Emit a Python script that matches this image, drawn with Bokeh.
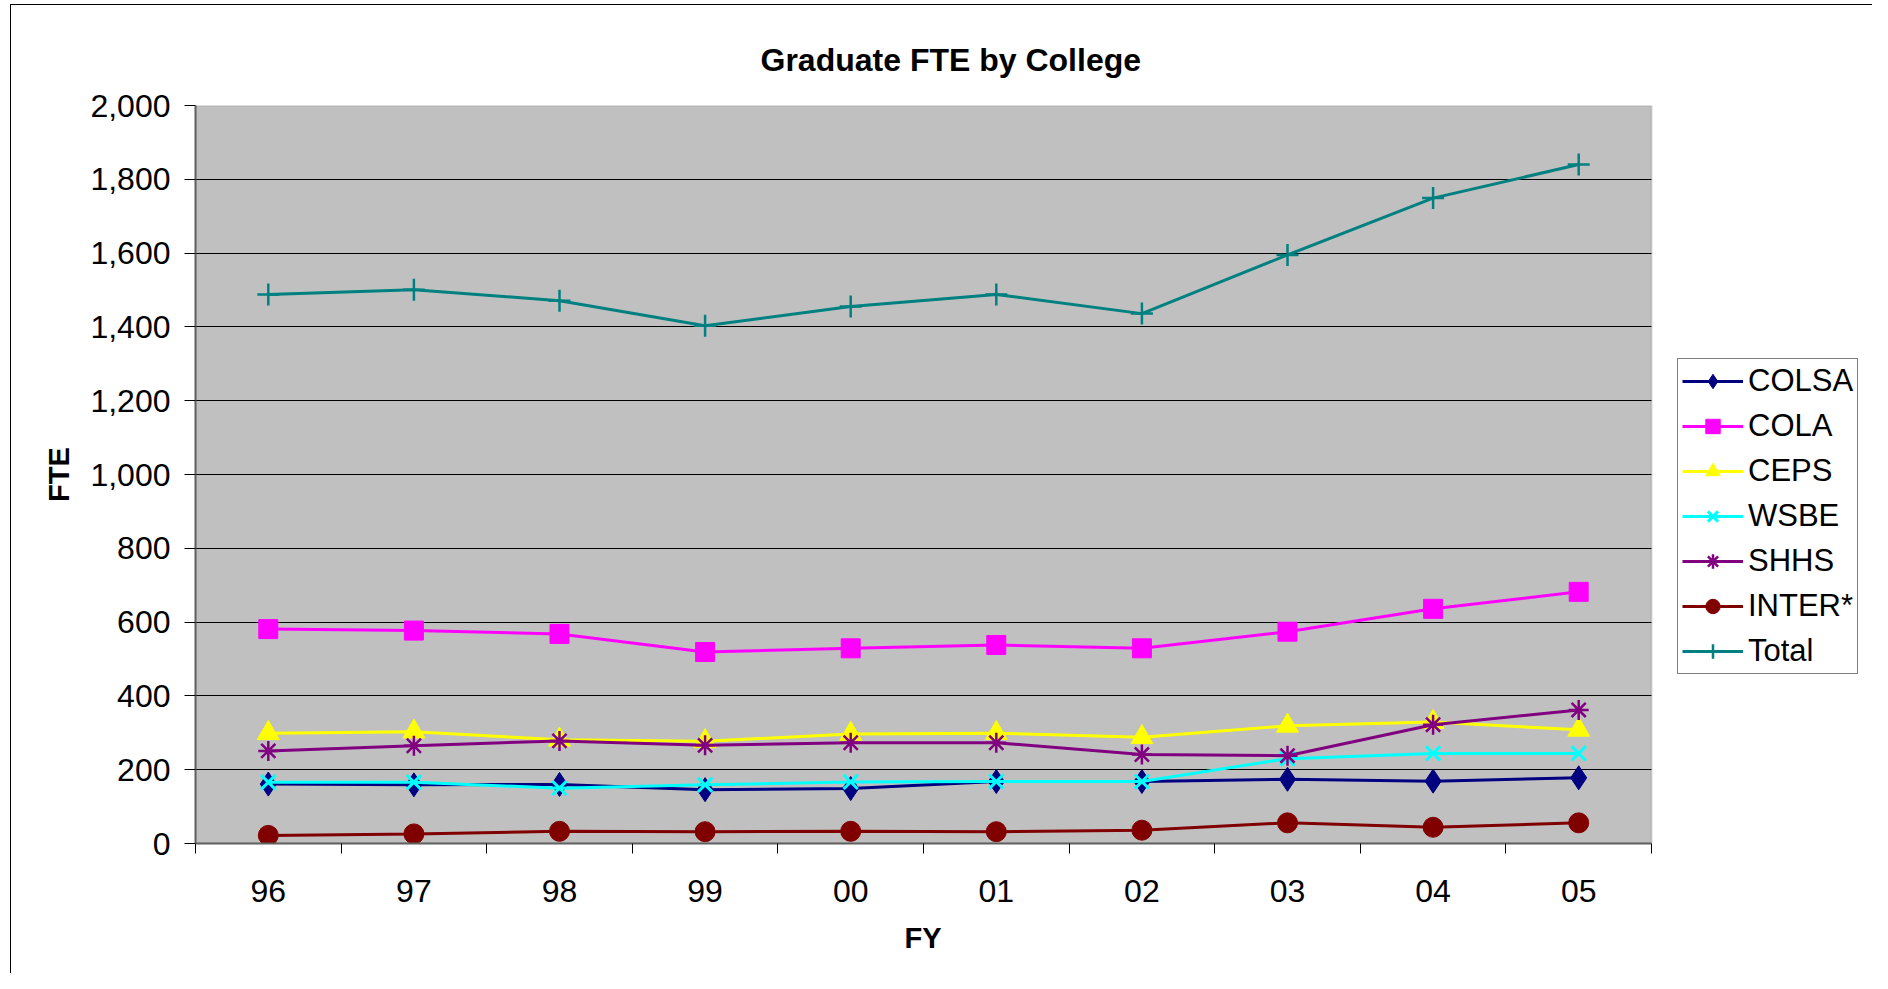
from bokeh.plotting import figure
from bokeh.models import (FixedTicker, NumeralTickFormatter, Legend, LegendItem,
                          Range1d, Title, BoxAnnotation)
from bokeh.embed import file_html
from bokeh.resources import INLINE

# ---- data -------------------------------------------------------------
years = ["96", "97", "98", "99", "00", "01", "02", "03", "04", "05"]
colsa = [161, 159, 160, 146, 149, 168, 168, 174, 169, 178]
cola = [581, 577, 568, 519, 529, 538, 529, 574, 636, 682]
ceps = [299, 303, 281, 277, 297, 299, 288, 319, 329, 308]
wsbe = [166, 166, 150, 159, 167, 168, 168, 230, 244, 244]
shhs = [251, 265, 278, 266, 273, 273, 241, 238, 322, 362]
inter = [22, 26, 33, 32, 33, 32, 36, 56, 44, 56]
total = [1488, 1501, 1471, 1403, 1455, 1488, 1436, 1595, 1749, 1840]
y_ticks = list(range(0, 2001, 200))
Y_MAX = 2000

FONT = "Liberation Sans"

n = len(years)
x = [i + 0.5 for i in range(n)]

W, H = 1872, 973
FL, FT, FR, FB = 195, 105, 1651, 843   # visible plot-area edges in canvas px
# the Bokeh frame runs to the right canvas edge so the legend can sit inside it
x_end = n * (W - FL) / (FR - FL)

p = figure(width=W, height=H, output_backend="svg", toolbar_location=None,
           x_range=Range1d(0, x_end), y_range=Range1d(0, Y_MAX),
           min_border_left=FL, min_border_right=0, min_border_top=FT,
           min_border_bottom=H - FB)

p.title = Title(text="Graduate FTE by College", align="left", offset=565,
                standoff=56, text_font_size="32px", text_font=FONT,
                text_font_style="bold", text_color="black")

p.background_fill_color = "white"
p.border_fill_color = "white"
p.border_fill_alpha = 0
p.outline_line_color = None
p.styles = {
    "background-color": "white",
    "background-image": "linear-gradient(#000,#000), linear-gradient(#000,#000)",
    "background-size": "1px 100%, 100% 1px",
    "background-position": "10px 4px, 10px 4px",
    "background-repeat": "no-repeat",
}

# grey plot area with its border
p.add_layout(BoxAnnotation(left=0, right=n, bottom=0, top=Y_MAX,
                           fill_color="#C0C0C0", fill_alpha=1.0,
                           line_color="#808080", line_width=2, level="image"))

# y axis
p.yaxis.ticker = FixedTicker(ticks=y_ticks)
p.yaxis.formatter = NumeralTickFormatter(format="0,0")
p.yaxis.major_tick_out = 11
p.yaxis.major_tick_in = 0
p.yaxis.minor_tick_out = 0
p.yaxis.minor_tick_in = 0
p.yaxis.major_tick_line_color = "black"
p.yaxis.axis_line_color = "#606060"
p.yaxis.axis_line_width = 2
p.yaxis.major_label_text_font = FONT
p.yaxis.major_label_text_font_size = "32px"
p.yaxis.major_label_text_color = "black"
p.yaxis.major_label_standoff = 14
p.yaxis.axis_label = "FTE"
p.yaxis.axis_label_text_font = FONT
p.yaxis.axis_label_text_font_size = "29px"
p.yaxis.axis_label_text_font_style = "bold"
p.yaxis.axis_label_text_color = "black"
p.yaxis.axis_label_standoff = 12

# x axis
p.xaxis.bounds = (0, n)
p.xaxis.ticker = FixedTicker(ticks=x, minor_ticks=list(range(0, n + 1)))
p.xaxis.major_label_overrides = {xi: yr for xi, yr in zip(x, years)}
p.xaxis.major_tick_out = 0
p.xaxis.major_tick_in = 0
p.xaxis.minor_tick_out = 10
p.xaxis.minor_tick_in = 0
p.xaxis.minor_tick_line_color = "black"
p.xaxis.axis_line_color = "#606060"
p.xaxis.axis_line_width = 2
p.xaxis.major_label_text_font = FONT
p.xaxis.major_label_text_font_size = "32px"
p.xaxis.major_label_text_color = "black"
p.xaxis.major_label_standoff = 26

# x-axis title, centred under the visible plot area
p.add_layout(Title(text="FY", align="left", offset=709, vertical_align="top",
                   standoff=34, text_font_size="29px", text_font=FONT,
                   text_font_style="bold", text_color="black"), "below")

# grid (horizontal lines only across the plot area)
p.xgrid.visible = False
yg = p.ygrid[0]
if "cross_bounds" in yg.properties():
    yg.ticker = FixedTicker(ticks=y_ticks)
    yg.grid_line_color = "black"
    yg.grid_line_width = 1
    yg.cross_bounds = (0, n)
else:
    yg.visible = False
    p.segment(x0=[0] * len(y_ticks), x1=[n] * len(y_ticks), y0=y_ticks, y1=y_ticks,
              line_color="black", line_width=1)

series = [
    ("COLSA", colsa, "#000080", "diamond", 24, 1),
    ("COLA", cola, "#FF00FF", "square", 19, 1),
    ("CEPS", ceps, "#FFFF00", "triangle", 22, 1),
    ("WSBE", wsbe, "#00FFFF", "x", 20, 3),
    ("SHHS", shhs, "#800080", "asterisk", 20, 2.5),
    ("INTER*", inter, "#800000", "circle", 20, 1),
    ("Total", total, "#008080", "cross", 22, 2.5),
]

items = []
for name, vals, color, marker, size, lw in series:
    lr = p.line(x, vals, line_color=color, line_width=3)
    mr = p.scatter(x, vals, marker=marker, size=size, fill_color=color,
                   line_color=color, line_width=lw)
    items.append(LegendItem(label=name, renderers=[lr, mr]))

legend = Legend(items=items, location=(1677 - FL, FB - 674), margin=0, padding=4,
                spacing=9, glyph_width=61, glyph_height=36, label_height=36,
                label_standoff=5,
                label_text_font=FONT, label_text_font_size="31px",
                label_text_color="black",
                border_line_color="black", border_line_width=1,
                background_fill_color="white", background_fill_alpha=1.0)
p.add_layout(legend, "center")

open("out.html", "w").write(file_html(p, INLINE))
